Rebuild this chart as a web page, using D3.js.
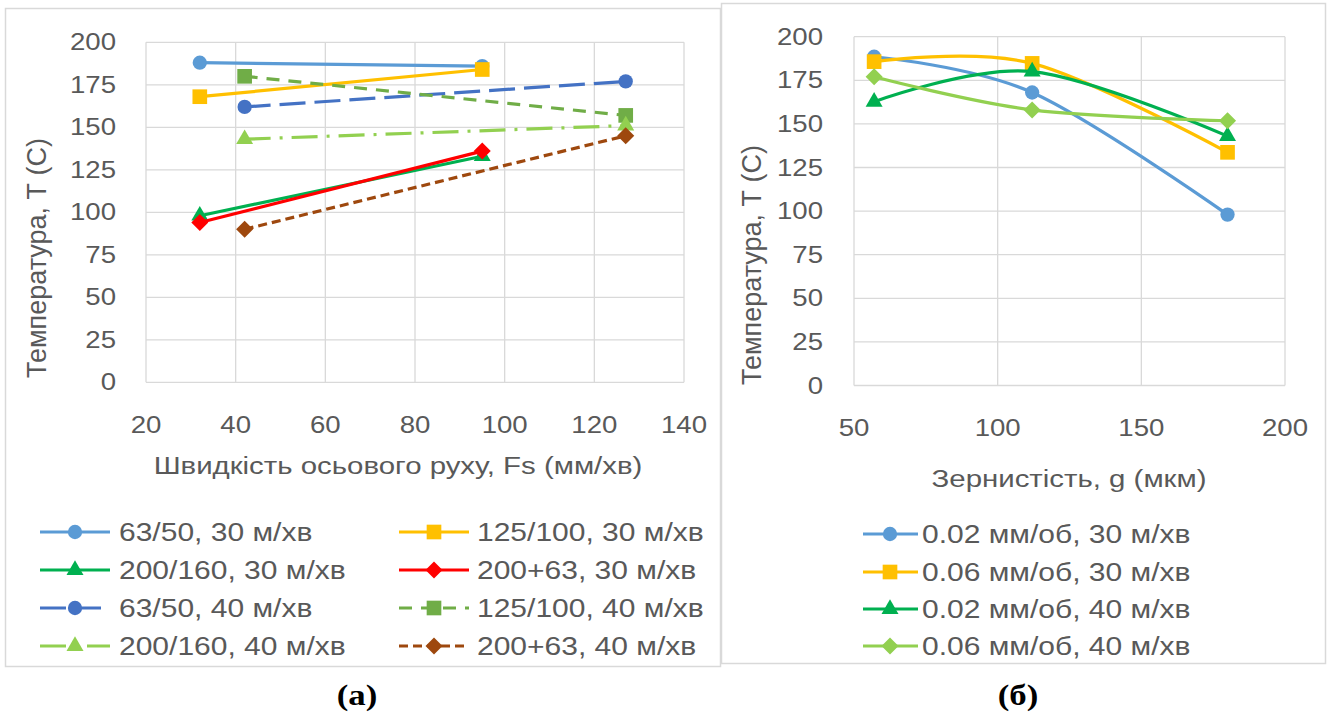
<!DOCTYPE html>
<html>
<head>
<meta charset="utf-8">
<script src="https://cdn.jsdelivr.net/npm/d3@7"></script>
<style>
  html, body { margin: 0; padding: 0; background: #fff; }
  svg { display: block; }
  text { font-family: "Liberation Sans", Arial, sans-serif; fill: #595959; }
</style>
</head>
<body>
<svg id="chart" width="1331" height="716"></svg>
<script>
// ---- Panel (а): temperature vs axial feed rate ----
const feedTicks = [20, 40, 60, 80, 100, 120, 140];
const tempTicks = [0, 25, 50, 75, 100, 125, 150, 175, 200];

const feedNames = [
  "63/50, 30 м/хв", "125/100, 30 м/хв",
  "200/160, 30 м/хв", "200+63, 30 м/хв",
  "63/50, 40 м/хв", "125/100, 40 м/хв",
  "200/160, 40 м/хв", "200+63, 40 м/хв"
];
const feedX30 = [32, 95];
const feedX40 = [42, 127];
const temp_63_50_30 = [188, 186];
const temp_125_100_30 = [168, 184];
const temp_200_160_30 = [98, 133];
const temp_200_63_30 = [94, 136];
const temp_63_50_40 = [162, 177];
const temp_125_100_40 = [180, 157];
const temp_200_160_40 = [143, 151];
const temp_200_63_40 = [90, 145];

// ---- Panel (б): temperature vs grit size ----
const gritTicks = [50, 100, 150, 200];
const gritX = [57, 112, 180];
const gritNames = [
  "0.02 мм/об, 30 м/хв", "0.06 мм/об, 30 м/хв",
  "0.02 мм/об, 40 м/хв", "0.06 мм/об, 40 м/хв"
];
const temp_002_30 = [188.5, 168, 98];
const temp_006_30 = [185.7, 184.7, 133.7];
const temp_002_40 = [162.7, 180, 143];
const temp_006_40 = [177, 158, 151.8];

// ---- drawing ----
const svg = d3.select("#chart");
const SX = 1.2;          // horizontal glyph stretch of the horizontal texts
const GRID = "#d9d9d9";

function stext(parent, x, y, str, size, anchor, extra) {
  const g = parent.append("g")
    .attr("transform", `translate(${x},${y}) scale(${SX},1)`);
  const t = g.append("text")
    .attr("text-anchor", anchor)
    .attr("dy", "0.35em")
    .style("font-size", size + "px")
    .text(str);
  if (extra) extra(t);
  return t;
}

function symbolFor(kind) {
  if (kind === "circle") return d3.symbol(d3.symbolCircle, 160)();
  if (kind === "square") return d3.symbol(d3.symbolSquare, 215)();
  if (kind === "triangle") return d3.symbol(d3.symbolTriangle, 125)();
  if (kind === "diamond") return d3.symbol(d3.symbolSquare, 145)();
}
function drawMarker(parent, kind, x, y, color) {
  parent.append("path")
    .attr("d", symbolFor(kind))
    .attr("transform", `translate(${x},${y})` + (kind === "diamond" ? " rotate(45)" : ""))
    .attr("fill", color)
    .attr("stroke", "none");
}

// chart frames
svg.append("rect").attr("x", 5.5).attr("y", 8.5).attr("width", 715).attr("height", 658)
  .attr("fill", "#fff").attr("stroke", GRID).attr("stroke-width", 1.5);
svg.append("rect").attr("x", 721.5).attr("y", 3.5).attr("width", 604).attr("height", 660)
  .attr("fill", "#fff").attr("stroke", GRID).attr("stroke-width", 1.5);

function drawGridPanel(xs, ys, xTicks, yTicks, xLabelY, yLabelX) {
  const g = svg.append("g");
  g.selectAll(".hg").data(yTicks).join("line")
    .attr("x1", xs.range()[0]).attr("x2", xs.range()[1])
    .attr("y1", d => ys(d)).attr("y2", d => ys(d))
    .attr("stroke", GRID).attr("stroke-width", 1.3);
  g.selectAll(".vg").data(xTicks).join("line")
    .attr("x1", d => xs(d)).attr("x2", d => xs(d))
    .attr("y1", ys.range()[0]).attr("y2", ys.range()[1])
    .attr("stroke", GRID).attr("stroke-width", 1.3);
  yTicks.forEach(v => stext(g, yLabelX, ys(v), String(v), 23, "end"));
  xTicks.forEach(v => stext(g, xs(v), xLabelY, String(v), 23, "middle"));
  return g;
}

// ----- Panel (а) -----
const xA = d3.scaleLinear().domain([20, 140]).range([146, 684]);
const yA = d3.scaleLinear().domain([0, 200]).range([382.3, 42.3]);
drawGridPanel(xA, yA, feedTicks, tempTicks, 425, 116);

const seriesA = [
  { name: feedNames[0], xs: feedX30, ys: temp_63_50_30,  color: "#5B9BD5", dash: null,       mk: "circle" },
  { name: feedNames[1], xs: feedX30, ys: temp_125_100_30, color: "#FFC000", dash: null,       mk: "square" },
  { name: feedNames[2], xs: feedX30, ys: temp_200_160_30, color: "#00B050", dash: null,       mk: "triangle" },
  { name: feedNames[3], xs: feedX30, ys: temp_200_63_30,  color: "#FF0000", dash: null,       mk: "diamond" },
  { name: feedNames[4], xs: feedX40, ys: temp_63_50_40,  color: "#4472C4", dash: "26,9",     mk: "circle" },
  { name: feedNames[5], xs: feedX40, ys: temp_125_100_40, color: "#70AD47", dash: "13,9",     mk: "square" },
  { name: feedNames[6], xs: feedX40, ys: temp_200_160_40, color: "#92D050", dash: "26,9,3,9", mk: "triangle" },
  { name: feedNames[7], xs: feedX40, ys: temp_200_63_40,  color: "#9E480E", dash: "9,5",      mk: "diamond" }
];

const lineA = d3.line().x(d => xA(d[0])).y(d => yA(d[1]));
const gA = svg.append("g");
seriesA.forEach(s => {
  const pts = s.xs.map((x, i) => [x, s.ys[i]]);
  const sg = gA.append("g");
  sg.append("path").attr("d", lineA(pts))
    .attr("fill", "none").attr("stroke", s.color).attr("stroke-width", 3.2)
    .attr("stroke-dasharray", s.dash);
  pts.forEach(p => drawMarker(sg, s.mk, xA(p[0]), yA(p[1]), s.color));
});

stext(svg, 398, 465, "Швидкість осьового руху, Fs (мм/хв)", 24.5, "middle");
svg.append("text")
  .attr("transform", "translate(37,258) rotate(-90)")
  .attr("text-anchor", "middle").attr("dy", "0.35em")
  .style("font-size", "27px")
  .text("Температура, Т (С)");

// legend (а)
const legRowsA = [532, 570, 608, 646];
const legColsA = [{ x0: 40, tx: 119 }, { x0: 399, tx: 477 }];
seriesA.forEach((s, i) => {
  const row = Math.floor(i / 2), col = i % 2;
  const y = legRowsA[row], c = legColsA[col];
  const lg = svg.append("g");
  lg.append("line").attr("x1", c.x0).attr("x2", c.x0 + 70).attr("y1", y).attr("y2", y)
    .attr("stroke", s.color).attr("stroke-width", 3.2).attr("stroke-dasharray", s.dash ? s.dash : null);
  drawMarker(lg, s.mk, c.x0 + 35, y, s.color);
  stext(lg, c.tx, y, s.name, 25, "start");
});

// ----- Panel (б) -----
const xB = d3.scaleLinear().domain([50, 200]).range([854, 1285]);
const yB = d3.scaleLinear().domain([0, 200]).range([385.5, 36.7]);
drawGridPanel(xB, yB, gritTicks, tempTicks, 428, 823);

const seriesB = [
  { name: gritNames[0], ys: temp_002_30, color: "#5B9BD5", mk: "circle" },
  { name: gritNames[1], ys: temp_006_30, color: "#FFC000", mk: "square" },
  { name: gritNames[2], ys: temp_002_40, color: "#00B050", mk: "triangle" },
  { name: gritNames[3], ys: temp_006_40, color: "#92D050", mk: "diamond" }
];
const lineB = d3.line().curve(d3.curveCatmullRom.alpha(0))
  .x(d => xB(d[0])).y(d => yB(d[1]));
const gB = svg.append("g");
seriesB.forEach(s => {
  const pts = gritX.map((x, i) => [x, s.ys[i]]);
  const sg = gB.append("g");
  sg.append("path").attr("d", lineB(pts))
    .attr("fill", "none").attr("stroke", s.color).attr("stroke-width", 3.2);
  pts.forEach(p => drawMarker(sg, s.mk, xB(p[0]), yB(p[1]), s.color));
});

stext(svg, 1069, 478, "Зернистість, g (мкм)", 24.5, "middle");
svg.append("text")
  .attr("transform", "translate(752,265) rotate(-90)")
  .attr("text-anchor", "middle").attr("dy", "0.35em")
  .style("font-size", "27px")
  .text("Температура, Т (С)");

// legend (б)
const legRowsB = [534, 572, 609, 646];
seriesB.forEach((s, i) => {
  const y = legRowsB[i];
  const lg = svg.append("g");
  lg.append("line").attr("x1", 863).attr("x2", 918).attr("y1", y).attr("y2", y)
    .attr("stroke", s.color).attr("stroke-width", 3.2);
  drawMarker(lg, s.mk, 890, y, s.color);
  stext(lg, 922, y, s.name, 25, "start");
});

// panel captions
const capStyle = t => t.style("font-family", "'Liberation Serif', 'Times New Roman', serif")
  .style("font-weight", "bold").style("fill", "#000");
stext(svg, 357, 695, "(а)", 29, "middle", capStyle);
stext(svg, 1018, 695, "(б)", 29, "middle", capStyle);
</script>
</body>
</html>
